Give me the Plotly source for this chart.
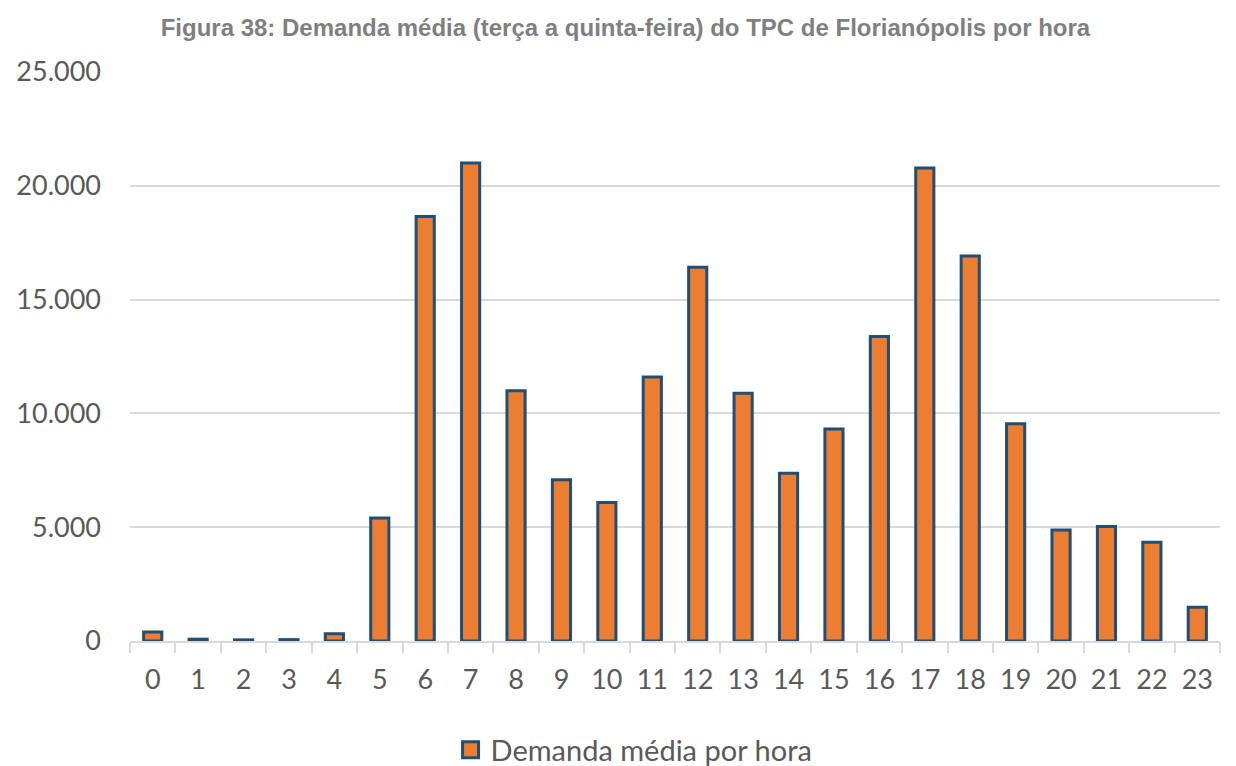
import plotly.graph_objects as go

# Average hourly demand, Tuesday to Thursday
horas = [str(h) for h in range(24)]
demanda = [400, 80, 50, 60, 320, 5400, 18650, 21000, 11000, 7080, 6080, 11600,
           16420, 10890, 7370, 9320, 13380, 20780, 16920, 9540, 4880, 5030, 4340, 1480]

titulo = "Figura 38: Demanda média (terça a quinta-feira) do TPC de Florianópolis por hora"
serie = "Demanda média por hora"
y_ticks = [0, 5000, 10000, 15000, 20000, 25000]

FILL = "#ed7d31"
EDGE = "#1f4e79"
label_font = dict(family="Lato, Carlito, Calibri, sans-serif", size=27, color="#595959")

fig = go.Figure()
fig.add_bar(
    x=horas,
    y=demanda,
    name=serie,
    width=0.4,
    marker=dict(color=FILL, line=dict(color=EDGE, width=3)),
    showlegend=False,
    legendgroup="demanda",
)
# Legend entry with a larger square swatch for the bar series
fig.add_scatter(
    x=[None], y=[None],
    mode="markers",
    name=serie,
    legendgroup="demanda",
    marker=dict(symbol="square", size=16, color=FILL, line=dict(color=EDGE, width=3)),
    showlegend=True,
)

fig.update_layout(
    width=1236,
    height=766,
    margin=dict(l=130, r=16, t=72, b=125),
    paper_bgcolor="white",
    plot_bgcolor="white",
    separators=",.",
    title=dict(
        text=titulo,
        font=dict(family="Liberation Sans, Arial, sans-serif", size=24, color="#7f7f7f", weight="bold"),
        x=0.506, xref="container", xanchor="center",
        y=0.9634, yref="container", yanchor="middle",
    ),
    legend=dict(
        orientation="h",
        x=0.513, xref="container", xanchor="center",
        y=0.021, yref="container", yanchor="middle",
        font=dict(label_font, size=29),
        itemwidth=30,
    ),
)

fig.update_xaxes(
    type="category",
    showline=True, linecolor="#d9d9d9", linewidth=2,
    ticks="outside", tickson="boundaries", ticklen=10, tickwidth=2, tickcolor="#d9d9d9",
    tickfont=label_font,
    ticklabelstandoff=14,
    showgrid=False,
)
fig.update_yaxes(
    range=[0, 25000],
    tickvals=y_ticks,
    tickformat=",d",
    tickfont=label_font,
    showgrid=True, gridcolor="#d9d9d9", gridwidth=2,
    zeroline=False, showline=False,
    ticklabelstandoff=28,
)

fig.write_html("out.html")
